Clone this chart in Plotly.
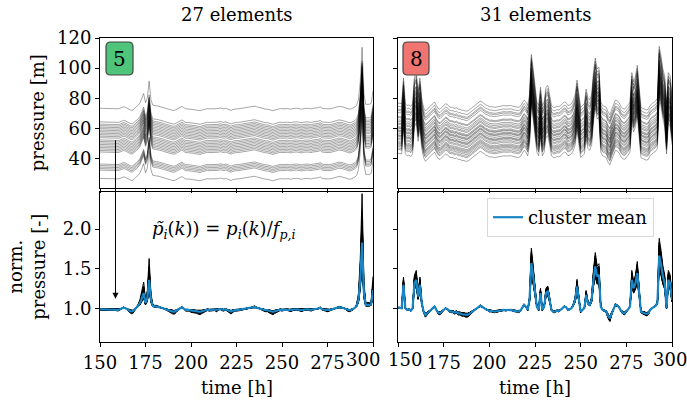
import plotly.graph_objects as go

# ---------------- data ----------------
hours = list(range(150, 301))

# cluster 5 mean normalized pressure
mean_c5 = [
    0.987, 0.986, 0.987, 0.988, 0.987, 0.986, 0.985, 0.986, 0.985,          # 150-158
    0.979, 0.980, 0.987, 0.999, 1.008, 1.000, 0.987, 0.979, 0.960, 0.962,  # 159-168
    0.980, 1.008, 1.030, 1.065, 1.127, 1.190, 1.064, 1.127, 1.360, 1.106,  # 169-178
    1.030, 1.021, 1.021, 1.017, 1.013, 1.004, 0.996, 0.987, 0.979, 0.970,  # 179-188
    0.966, 0.958, 0.958, 0.970, 0.987, 1.004, 1.013, 0.996, 0.979, 0.979,  # 189-198
    0.979, 0.970, 0.970, 0.966, 0.962, 0.958, 0.953, 0.962, 0.970, 0.979,  # 199-208
    0.983, 0.979, 0.979, 0.979, 0.983, 0.975, 0.983, 0.992, 0.983, 0.979,  # 209-218
    0.987, 0.979, 0.966, 0.958, 0.970, 0.979, 0.979, 0.979, 0.983, 0.987,  # 219-228
    0.987, 0.992, 0.996, 1.000, 1.008, 1.013, 1.017, 1.008, 1.000, 0.992,  # 229-238
    0.983, 0.979, 0.975, 0.975, 0.966, 0.958, 0.953, 0.962, 0.970, 0.979,  # 239-248
    0.983, 0.979, 0.983, 0.987, 0.983, 0.979, 0.975, 0.983, 0.987, 0.987,  # 249-258
    0.983, 0.979, 0.975, 0.983, 0.987, 0.987, 0.983, 0.979, 0.987, 0.987,  # 259-268
    0.992, 0.996, 1.008, 0.987, 0.983, 0.979, 0.975, 0.979, 0.983, 0.987,  # 269-278
    0.996, 1.004, 1.013, 1.013, 1.008, 1.000, 0.992, 0.979, 0.975, 0.979,  # 279-288
    0.987, 1.004, 1.030, 1.106, 1.360, 1.830, 1.190, 1.042, 1.042, 1.042,  # 289-298
    1.055, 1.230,                                                          # 299-300
]

# cluster 8 mean normalized pressure
mean_c8 = [
    1.008, 1.008, 1.000, 1.297, 1.000, 0.979, 0.987, 0.970, 1.000, 1.318,  # 150-159
    1.360, 1.148, 1.297, 1.064, 0.958, 0.915, 0.936, 0.958, 0.979, 1.000,  # 160-169
    1.021, 0.979, 0.945, 0.936, 0.958, 0.979, 1.000, 0.992, 0.966, 0.958,  # 170-179
    0.958, 0.945, 0.953, 0.936, 0.936, 0.924, 0.924, 0.915, 0.915, 0.928,  # 180-189
    0.945, 0.958, 0.970, 0.992, 1.013, 1.030, 1.021, 1.000, 0.987, 0.979,  # 190-199
    0.966, 0.966, 0.958, 0.958, 0.962, 0.966, 0.970, 0.979, 0.979, 0.975,  # 200-209
    0.979, 0.983, 0.979, 0.970, 0.966, 0.966, 0.958, 0.970, 1.000, 1.042,  # 210-219
    1.021, 0.979, 1.106, 1.572, 1.403, 1.233, 1.021, 0.979, 1.191, 0.979,  # 220-229
    1.021, 1.191, 1.212, 1.106, 0.979, 0.958, 0.958, 0.970, 0.966, 0.979,  # 230-239
    1.000, 1.021, 1.013, 0.979, 0.987, 1.000, 1.042, 1.106, 1.275, 1.127,  # 240-249
    0.958, 0.979, 1.000, 1.169, 1.064, 1.042, 1.106, 1.360, 1.530, 1.403,  # 250-259
    1.424, 1.021, 0.979, 0.970, 0.958, 0.903, 0.873, 0.936, 1.000, 1.042,  # 260-269
    1.034, 1.013, 0.970, 0.945, 0.936, 0.958, 0.987, 1.021, 1.360, 1.254,  # 270-279
    1.318, 1.445, 1.233, 0.958, 0.945, 0.936, 0.928, 0.936, 0.979, 1.000,  # 280-289
    1.013, 1.030, 1.064, 1.665, 1.551, 1.403, 1.318, 1.000, 1.360, 1.318,  # 290-299
    1.106,                                                                 # 300
]

# pressure scale factors f_p,i of the elements [m]
f_c5 = [74, 65, 63.5, 62.5, 61.5, 60.5, 59.5, 58.5, 57.5, 56.5, 55.5, 54.5, 53, 52,
        51, 50, 49, 48, 47, 46, 45, 37, 36, 35, 34, 33, 27.5]
f_c8 = [76.4, 74.2, 72.4, 71.5, 70.2, 67.5, 66.8, 65.3, 64.2, 63.1, 62.3, 60.9, 60.2,
        59.7, 58.6, 58.0, 57.5, 56.4, 55.3, 54.8, 54.2, 53.1, 52.2, 50.9, 50.1, 49.4,
        48.6, 47.6, 46.5, 45.6, 43.1]

cluster_ids = ["5", "8"]
titles = ["27 elements", "31 elements"]
x_ticks = [150, 175, 200, 225, 250, 275, 300]
x_ticklabels = ["150", "175", "200", "225", "250", "275", "300"]

FONT = "DejaVu Serif"
BLUE = "#1a85c4"

fig = go.Figure()

# domains (paper coords)
xdom = [[0.0, 0.4773], [0.521, 1.0]]
ydom_top = [0.5066, 1.0]
ydom_bot = [0.0, 0.4934]


def element_series(f_list, mean_prof):
    hm = len(f_list) / sum(1.0 / f for f in f_list)
    pres = [[f + (m - 1.0) * hm for m in mean_prof] for f in f_list]
    norm = [[p / f for p in row] for row, f in zip(pres, f_list)]
    return pres, norm


for c, (f_list, mean_prof) in enumerate([(f_c5, mean_c5), (f_c8, mean_c8)]):
    pres, norm = element_series(f_list, mean_prof)
    xa_top = "x" if c == 0 else "x2"
    ya_top = "y" if c == 0 else "y2"
    xa_bot = "x3" if c == 0 else "x4"
    ya_bot = "y3" if c == 0 else "y4"
    for row in pres:
        fig.add_trace(go.Scatter(x=hours, y=row, mode="lines", xaxis=xa_top, yaxis=ya_top,
                                 line=dict(color="rgba(0,0,0,0.5)", width=0.7),
                                 showlegend=False, hoverinfo="skip"))
    for row in norm:
        fig.add_trace(go.Scatter(x=hours, y=row, mode="lines", xaxis=xa_bot, yaxis=ya_bot,
                                 line=dict(color="black", width=1.0),
                                 showlegend=False, hoverinfo="skip"))
    fig.add_trace(go.Scatter(x=hours, y=mean_prof, mode="lines", xaxis=xa_bot, yaxis=ya_bot,
                             line=dict(color=BLUE, width=2.2), name="cluster mean",
                             showlegend=(c == 1)))

axis_common = dict(showline=True, mirror=True, linecolor="black", linewidth=1,
                   ticks="outside", ticklen=4, tickcolor="black", showgrid=False,
                   zeroline=False, automargin=False, ticklabeloverflow="allow",
                   tickfont=dict(family=FONT, size=18, color="black"))

# edge tick labels are nudged inwards (placed as annotations below)
left_bottom_text = x_ticklabels[:-1] + [""]
right_bottom_text = [""] + x_ticklabels[1:-1] + [""]

layout_axes = {}
for c in range(2):
    n_top = "" if c == 0 else "2"
    n_bot = "3" if c == 0 else "4"
    layout_axes["xaxis" + n_top] = dict(axis_common, domain=xdom[c], range=[150, 300],
                                        tickvals=x_ticks, showticklabels=False,
                                        anchor="y" + n_top)
    layout_axes["yaxis" + n_top] = dict(axis_common, domain=ydom_top, range=[20.5, 120],
                                        tickvals=[40, 60, 80, 100, 120],
                                        showticklabels=(c == 0), anchor="x" + n_top)
    layout_axes["xaxis" + n_bot] = dict(axis_common, domain=xdom[c], range=[150, 300],
                                        tickvals=x_ticks,
                                        ticktext=left_bottom_text if c == 0 else right_bottom_text,
                                        anchor="y" + n_bot)
    layout_axes["yaxis" + n_bot] = dict(axis_common, domain=ydom_bot, range=[0.573, 2.47],
                                        tickvals=[1.0, 1.5, 2.0], tickformat=".1f",
                                        showticklabels=(c == 0), anchor="x" + n_bot)

fig.update_layout(**layout_axes)

annotations = []
txt_font = dict(family=FONT, size=18, color="black")
for c in range(2):
    xc = (xdom[c][0] + xdom[c][1]) / 2
    annotations.append(dict(text=titles[c], x=xc, y=1.0757, xref="paper", yref="paper",
                            showarrow=False, font=txt_font, xanchor="center", yanchor="middle"))
    annotations.append(dict(text="time [h]", x=xc, y=-0.151, xref="paper", yref="paper",
                            showarrow=False, font=txt_font, xanchor="center", yanchor="middle"))

# nudged edge tick labels
for txt, xv, xr, yr in [(x_ticklabels[-1], 294.5, "x3", "y3 domain"),
                        (x_ticklabels[0], 153.7, "x4", "y4 domain"),
                        (x_ticklabels[-1], 298.9, "x4", "y4 domain")]:
    annotations.append(dict(text=txt, x=xv, y=0, xref=xr, yref=yr,
                            showarrow=False, font=txt_font, xanchor="center", yanchor="top",
                            yshift=-5))

annotations.append(dict(text="pressure [m]", x=-0.110, y=0.753, xref="paper", yref="paper",
                        textangle=-90, showarrow=False, font=txt_font,
                        xanchor="center", yanchor="middle"))
annotations.append(dict(text="norm.<br>pressure [-]", x=-0.128, y=0.247, xref="paper",
                        yref="paper", textangle=-90, showarrow=False, font=txt_font,
                        xanchor="center", yanchor="middle"))

# formula
annotations.append(dict(
    text="<i>p\u0303</i><sub><i>i</i></sub>(<i>k</i>)) = <i>p</i><sub><i>i</i></sub>(<i>k</i>)/<i>f</i><sub><i>p,i</i></sub>",
    x=218, y=1.99, xref="x3", yref="y3", showarrow=False,
    font=dict(family=FONT, size=18, color="black"), xanchor="center", yanchor="middle"))

# arrow from top panel to bottom panel
annotations.append(dict(text="", x=158.5, y=1.12, xref="x3", yref="y3",
                        ax=0, ay=-160, showarrow=True, arrowhead=2, arrowsize=1.2,
                        arrowwidth=1, arrowcolor="black"))

# badges
def badge_path(x0, x1, y0, y1, rx, ry):
    return (f"M {x0+rx},{y1} L {x1-rx},{y1} Q {x1},{y1} {x1},{y1-ry} "
            f"L {x1},{y0+ry} Q {x1},{y0} {x1-rx},{y0} L {x0+rx},{y0} "
            f"Q {x0},{y0} {x0},{y0+ry} L {x0},{y1-ry} Q {x0},{y1} {x0+rx},{y1} Z")

shapes = []
badge_cols = ["#4fc47b", "#f07571"]
badge_x = [(106, 133), (403, 429)]
for c in range(2):
    px0, px1 = badge_x[c]
    x0 = (px0 - 100) / 572
    x1 = (px1 - 100) / 572
    y0 = (342 - 75) / 304
    y1 = (342 - 42) / 304
    shapes.append(dict(type="path", path=badge_path(x0, x1, y0, y1, 0.008, 0.015),
                       xref="paper", yref="paper", fillcolor=badge_cols[c],
                       line=dict(color="#444444", width=1.2)))
    annotations.append(dict(text=cluster_ids[c], x=(x0 + x1) / 2, y=(y0 + y1) / 2,
                            xref="paper", yref="paper", showarrow=False,
                            font=dict(family=FONT, size=20, color="black"),
                            xanchor="center", yanchor="middle"))

fig.update_layout(
    width=687, height=405,
    margin=dict(l=100, r=15, t=38, b=63),
    paper_bgcolor="white", plot_bgcolor="white",
    annotations=annotations, shapes=shapes,
    legend=dict(x=(487 - 100) / 572, y=(342 - 198) / 304, xanchor="left", yanchor="top",
                bgcolor="white", bordercolor="#d8d8d8", borderwidth=1,
                font=dict(family=FONT, size=18, color="black"),
                itemwidth=30, tracegroupgap=0),
    font=dict(family=FONT, size=18, color="black"),
)

fig.write_html("out.html", config={"displayModeBar": False},
               post_script="document.body.style.margin='0px';document.body.style.overflow='hidden';")
